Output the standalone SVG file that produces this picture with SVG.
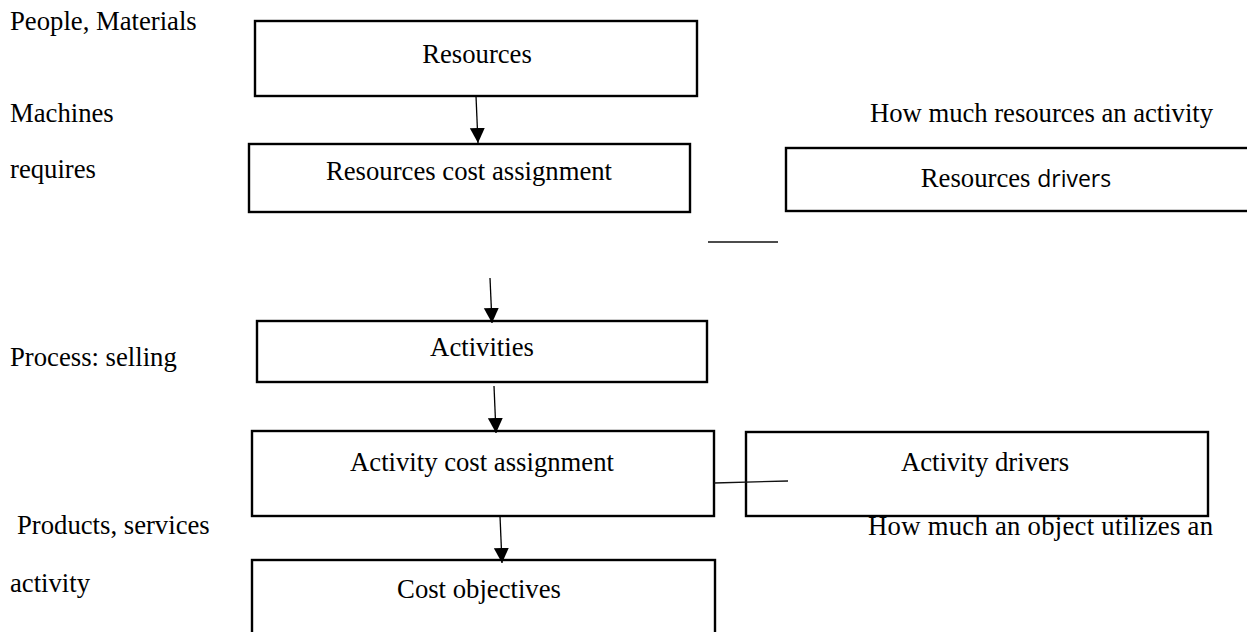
<svg xmlns="http://www.w3.org/2000/svg" width="1247" height="632" viewBox="0 0 1247 632">
  <style>
    .box { fill: #ffffff; stroke: #000000; stroke-width: 2.4; }
    .lbl { font-family: "Liberation Serif", "Times New Roman", serif; font-size: 26.7px; fill: #000000; }
    .mid { text-anchor: middle; }
    .sans { font-family: "Open Sans", "Liberation Sans", sans-serif; font-size: 23px; }
    .arrow { stroke: #000000; stroke-width: 1.3; fill: none; marker-end: url(#head); }
    .thin { stroke: #111111; stroke-width: 1.3; fill: none; }
  </style>
  <defs>
    <marker id="head" markerUnits="userSpaceOnUse" markerWidth="16" markerHeight="16" refX="15" refY="7.5" orient="auto">
      <path d="M0,0 L15,7.5 L0,15 Z" fill="#000000"/>
    </marker>
  </defs>
  <rect width="1247" height="632" fill="#ffffff"/>

  <!-- side notes -->
  <g id="notes">
    <text class="lbl" x="10" y="30">People, Materials</text>
    <text class="lbl" x="10" y="122">Machines</text>
    <text class="lbl" x="10" y="178">requires</text>
    <text class="lbl" x="10" y="366">Process: selling</text>
    <text class="lbl" x="17" y="534">Products, services</text>
    <text class="lbl" x="10" y="592">activity</text>
    <text class="lbl" x="870" y="122" textLength="343">How much resources an activity</text>
    <text class="lbl" x="868" y="535" textLength="345">How much an object utilizes an</text>
  </g>

  <g id="resources">
    <rect class="box" x="255" y="21" width="442" height="75"/>
    <text class="lbl mid" x="477" y="63">Resources</text>
  </g>

  <g id="resources-cost-assignment">
    <rect class="box" x="249" y="144" width="441" height="68"/>
    <text class="lbl mid" x="469" y="180">Resources cost assignment</text>
  </g>

  <g id="resources-drivers">
    <rect class="box" x="786" y="148" width="470" height="63"/>
    <text class="lbl mid" x="1016" y="187">Resources <tspan class="sans">drivers</tspan></text>
  </g>

  <g id="activities">
    <rect class="box" x="257" y="321" width="450" height="61"/>
    <text class="lbl mid" x="482" y="356">Activities</text>
  </g>

  <g id="activity-cost-assignment">
    <rect class="box" x="252" y="431" width="462" height="85"/>
    <text class="lbl mid" x="482" y="471">Activity cost assignment</text>
  </g>

  <g id="activity-drivers">
    <rect class="box" x="746" y="432" width="462" height="84"/>
    <text class="lbl mid" x="985" y="471">Activity drivers</text>
  </g>

  <g id="cost-objectives">
    <rect class="box" x="252" y="560" width="463" height="80"/>
    <text class="lbl mid" x="479" y="598">Cost objectives</text>
  </g>

  <g id="connectors">
    <line class="arrow" x1="476" y1="96" x2="478" y2="143"/>
    <line class="thin" x1="708" y1="242" x2="778" y2="242"/>
    <line class="arrow" x1="490" y1="278" x2="492" y2="323"/>
    <line class="arrow" x1="494" y1="386" x2="496" y2="433"/>
    <line class="arrow" x1="500" y1="516" x2="502" y2="563"/>
    <line class="thin" x1="714" y1="483" x2="788" y2="481"/>
  </g>
</svg>
